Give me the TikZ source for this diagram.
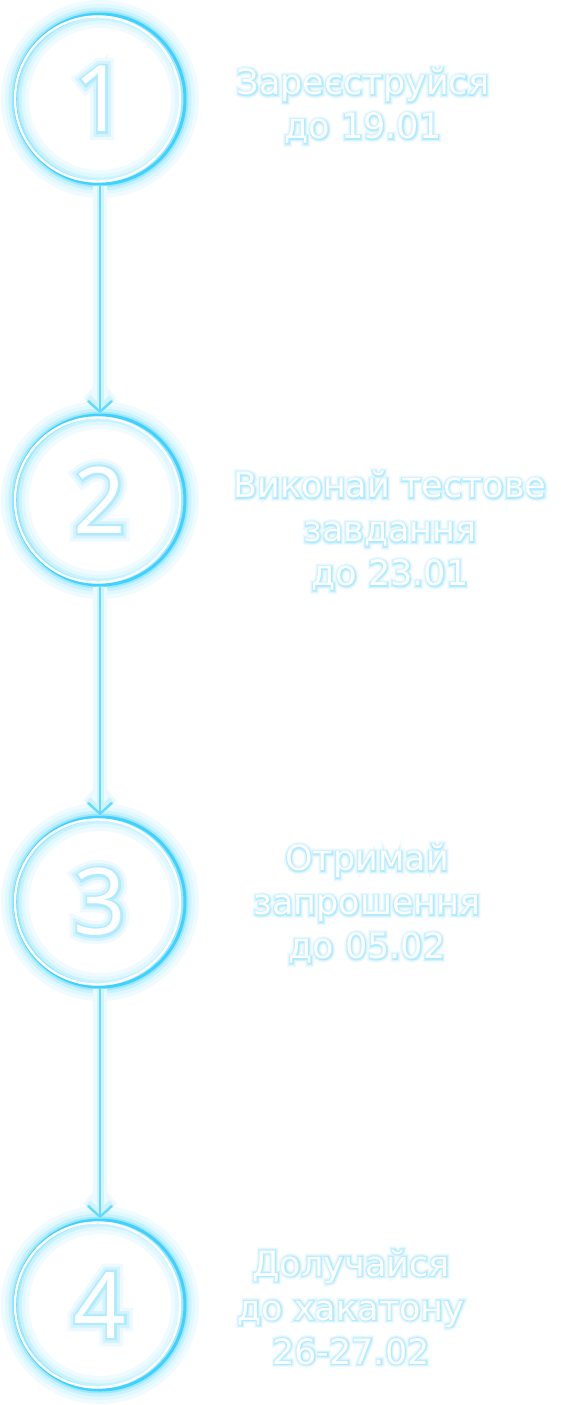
\documentclass[tikz,border=0pt]{standalone}
\usepackage{fontspec}
\setmainfont{DejaVu Sans}
\newfontfamily\digitfont{Open Sans}
\usetikzlibrary{arrows.meta}
\definecolor{neon}{HTML}{3FD2FF}
\definecolor{haloA}{HTML}{EEFAFF}
\definecolor{haloB}{HTML}{D4F4FF}
\definecolor{haloC}{HTML}{B0EBFF}
% white text on a cyan halo
\newcommand\glow[1]{\rlap{\addfontfeature{FakeBold=18}\color{haloA}#1}\rlap{\addfontfeature{FakeBold=11}\color{haloB}#1}\rlap{\addfontfeature{FakeBold=5}\color{haloC}#1}#1}
\begin{document}
\begin{tikzpicture}[
    x=1pt, y=-1pt,
    ring/.style={circle, minimum size=170pt, inner sep=0pt, text=white,
      font=\digitfont\fontsize{92}{92}\selectfont,
      preaction={draw=neon!8, line width=28pt},
      preaction={draw=neon!16, line width=20pt},
      preaction={draw=neon!28, line width=13pt},
      preaction={draw=neon!50, line width=7pt},
      draw=neon, line width=3pt},
    inner/.style={draw=white, line width=2.4pt},
    caption/.style={align=center, text=white, font=\fontsize{35}{44}\selectfont},
    link/.style={draw=neon!80, line width=2.5pt, -{Straight Barb[length=11pt, width=24pt]},
      preaction={draw=neon!10, line width=14pt, -{Straight Barb[length=11pt, width=24pt]}},
      preaction={draw=neon!25, line width=7pt, -{Straight Barb[length=11pt, width=24pt]}}}
  ]
    \useasboundingbox (0,0) rectangle (560,1405);
    \node[ring] (s1) at (100,99) {\glow{1}};
    \node[ring] (s2) at (100,500) {\glow{2}};
    \node[ring] (s3) at (100,902) {\glow{3}};
    \node[ring] (s4) at (100,1305) {\glow{4}};
    \foreach \s in {s1,s2,s3,s4} {
      \draw[inner] ([xshift=-2.5pt]\s.center) circle (82.5pt);
    }
    \draw[link] (s1) -- (s2);
    \draw[link] (s2) -- (s3);
    \draw[link] (s3) -- (s4);
    \node[caption] (t1) at (363,106) {\glow{Зареєструйся}\\\glow{до 19.01}};
    \node[caption] (t2) at (390,531) {\glow{Виконай тестове}\\\glow{завдання}\\\glow{до 23.01}};
    \node[caption] (t3) at (367,904) {\glow{Отримай}\\\glow{запрошення}\\\glow{до 05.02}};
    \node[caption] (t4) at (351,1307) {\glow{Долучайся}\\\glow{до хакатону}\\\glow{26-27.02}};
\end{tikzpicture}
\end{document}
